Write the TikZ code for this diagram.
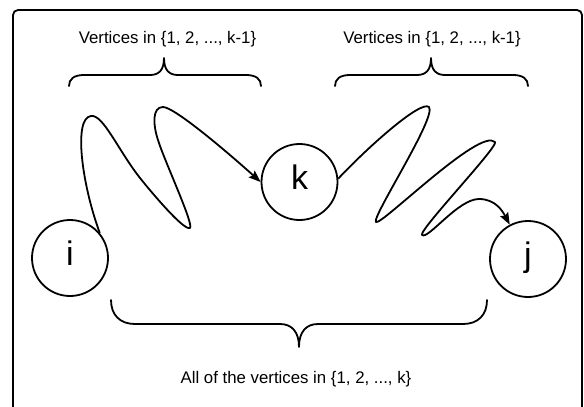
\documentclass[tikz,border=0pt]{standalone}
\usepackage{fontspec}
\setmainfont{Liberation Sans}
\usetikzlibrary{arrows.meta}
\begin{document}
\begin{tikzpicture}[x=1pt,y=-1pt,line width=1.8pt,
  vtx/.style={circle,draw,minimum size=76pt,inner sep=0pt,
    font=\fontsize{34}{34}\selectfont,text height=24pt,text depth=10pt},
  lbl/.style={font=\fontsize{16.8}{20}\selectfont,anchor=base,inner sep=0pt},
  walk/.style={line join=round,-{Stealth[length=12pt,width=9pt,inset=2pt]}},
  bracket/.style={line cap=round,line join=round},
  frame/.style={rounded corners=5pt}]
\useasboundingbox (0,0) rectangle (584,407);
\clip (0,0) rectangle (584,407);
% frame
\draw[frame] (13,10) rectangle (582,430);
% vertices
\node[vtx] (i) at (70,258) {i};
\node[vtx] (k) at (299.5,182) {k};
\node[vtx] (j) at (528,259) {j};
% labels
\node[lbl] (t1) at (167.5,43) {Vertices in \{1, 2, ..., k-1\}};
\node[lbl] (t2) at (432,43) {Vertices in \{1, 2, ..., k-1\}};
\node[lbl] (t3) at (296,383) {All of the vertices in \{1, 2, ..., k\}};
% braces
\draw[bracket] (69,86) .. controls (69,79) and (74,75) .. (84,75) -- (150,75)
  .. controls (159,75) and (164,70) .. (164,58)
  .. controls (164,70) and (169,75) .. (178,75) -- (246,75)
  .. controls (256,75) and (261,79) .. (261,86);
\draw[bracket] (335,86) .. controls (335,79) and (340,75) .. (350,75) -- (417,75)
  .. controls (426,75) and (431,70) .. (431,58)
  .. controls (431,70) and (436,75) .. (445,75) -- (513,75)
  .. controls (523,75) and (528,79) .. (528,86);
\draw[bracket] (111,300) .. controls (111,315) and (120,324) .. (135,324) -- (280,324)
  .. controls (292,324) and (299,332) .. (299,347)
  .. controls (299,332) and (306,324) .. (318,324) -- (463,324)
  .. controls (478,324) and (487,315) .. (487,300);
% walk i -> k
\draw[walk] (i.40) .. controls (82,185) and (73,118) .. (91,116)
  .. controls (103,114) and (118,150) .. (140,178)
  .. controls (152,193) and (184,231) .. (190,228)
  .. controls (194,224) and (164,160) .. (158,140)
  .. controls (153,125) and (152,107) .. (163,107)
  .. controls (174,107) and (225,150) .. (k.180);
% walk k -> j
\draw[walk] (k.5) .. controls (370,145) and (421,100) .. (429,107)
  .. controls (437,117) and (371,218) .. (376,222)
  .. controls (381,226) and (480,127) .. (495,142)
  .. controls (499,146) and (418,231) .. (422,235)
  .. controls (428,240) and (458,199) .. (479,199)
  .. controls (496,199) and (503,212) .. (j.118);
\end{tikzpicture}
\end{document}
